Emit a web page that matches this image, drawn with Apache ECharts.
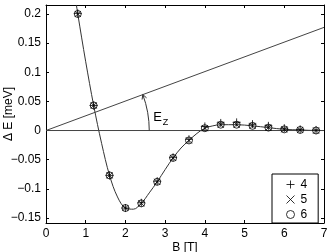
<!DOCTYPE html>
<html><head><meta charset="utf-8">
<script src="https://cdn.jsdelivr.net/npm/echarts@6/dist/echarts.min.js"></script>
<style>html,body{margin:0;padding:0;background:#fff}#c{width:332px;height:252px}</style>
</head><body><div id="c"></div>
<script>
// ---- data ----
const pointB   = [0.8, 1.2, 1.6, 2.0, 2.4, 2.8, 3.2, 3.6, 4.0, 4.4, 4.8, 5.2, 5.6, 6.0, 6.4, 6.8];
const series4  = [0.201, 0.043, -0.077, -0.133, -0.124, -0.087, -0.046, -0.015, 0.007, 0.013, 0.014, 0.011, 0.008, 0.004, 0.002, 0.001];
const series5  = [0.200, 0.043, -0.077, -0.133, -0.125, -0.088, -0.047, -0.017, 0.004, 0.010, 0.010, 0.008, 0.005, 0.002, 0.001, 0.000];
const series6  = [0.200, 0.043, -0.077, -0.133, -0.125, -0.088, -0.047, -0.017, 0.004, 0.010, 0.010, 0.008, 0.005, 0.002, 0.001, 0.000];
const fitB     = [0.765, 0.8, 1.0, 1.2, 1.4, 1.6, 1.8, 2.0, 2.2, 2.4, 2.6, 2.8, 3.0, 3.2, 3.4, 3.6, 3.8, 4.0, 4.2, 4.4, 4.8, 5.2, 5.6, 6.0, 6.4, 6.8, 7.0];
const fitE     = [0.2155, 0.200, 0.118, 0.043, -0.022, -0.077, -0.114, -0.133, -0.135, -0.125, -0.107, -0.088, -0.067, -0.047, -0.030, -0.017, -0.005, 0.004, 0.008, 0.010, 0.010, 0.008, 0.005, 0.002, 0.001, 0.000, 0.000];
const zeemanB  = [0, 7];
const zeemanE  = [0, 0.177];
const zeroB    = [0, 7];
const zeroE    = [0, 0];
const xTickValues = [0, 1, 2, 3, 4, 5, 6, 7];
const xTickLabels = ['0', '1', '2', '3', '4', '5', '6', '7'];
const yTickValues = [-0.15, -0.1, -0.05, 0, 0.05, 0.1, 0.15, 0.2];
const yTickLabels = ['\u22120.15', '\u22120.1', '\u22120.05', '0', '0.05', '0.1', '0.15', '0.2'];
const legendNames = ['4', '5', '6'];
const arcAtB = 2.6;

// ---- build ----
const FONT = "'Liberation Sans', Arial, sans-serif";
const pairs = (xs, ys) => xs.map((x, i) => [x, ys[i]]);
const lookup = (vals, labels) => v => { const i = vals.findIndex(t => Math.abs(t - v) < 1e-9); return i >= 0 ? labels[i] : ''; };

const XMIN = 0, XMAX = 7, YMIN = -0.1587, YMAX = 0.2154;
const plusPath = 'path://M5,0 L5,10 M0,5 L10,5';
const crossPath = 'path://M0,0 L10,10 M0,10 L10,0';

const baseX = {
  type: 'value', min: XMIN, max: XMAX, gridIndex: 0,
  axisLine: { show: true, onZero: false, lineStyle: { color: '#000', width: 1 } },
  axisTick: { show: true, inside: true, length: 3, customValues: xTickValues, lineStyle: { color: '#000' } },
  splitLine: { show: false }
};
const baseY = {
  type: 'value', min: YMIN, max: YMAX, gridIndex: 0,
  axisLine: { show: true, onZero: false, lineStyle: { color: '#000', width: 1 } },
  axisTick: { show: true, inside: true, length: 3, customValues: yTickValues, lineStyle: { color: '#000' } },
  splitLine: { show: false }
};

const option = {
  animation: false,
  backgroundColor: '#fff',
  textStyle: { fontFamily: FONT },
  grid: { left: 46, right: 8, top: 5, bottom: 29, containLabel: false, outerBoundsMode: 'none' },
  xAxis: [
    Object.assign({}, baseX, {
      position: 'bottom',
      name: 'B [T]', nameLocation: 'middle', nameGap: 19, nameMoveOverlap: false,
      nameTextStyle: { fontFamily: FONT, fontSize: 12, color: '#000' },
      axisLabel: { show: true, customValues: xTickValues, formatter: lookup(xTickValues, xTickLabels), margin: 5, fontFamily: FONT, fontSize: 12, color: '#000' }
    }),
    Object.assign({}, baseX, { position: 'top', axisLabel: { show: false } })
  ],
  yAxis: [
    Object.assign({}, baseY, {
      position: 'left',
      name: '\u0394 E [meV]', nameLocation: 'middle', nameGap: 31, nameRotate: 90, nameMoveOverlap: false,
      nameTextStyle: { fontFamily: FONT, fontSize: 12, color: '#000' },
      axisLabel: { show: true, customValues: yTickValues, formatter: lookup(yTickValues, yTickLabels), margin: 5, fontFamily: FONT, fontSize: 12, color: '#000' }
    }),
    Object.assign({}, baseY, { position: 'right', axisLabel: { show: false } })
  ],
  legend: {
    data: legendNames.map(n => ({ name: n })),
    orient: 'vertical', left: 272, top: 174,
    backgroundColor: '#fff', borderColor: '#000', borderWidth: 1,
    padding: [4, 11, 2, 12],
    itemWidth: 10, itemHeight: 8, itemGap: 2, itemTextGap: 11,
    itemStyle: { borderWidth: 1 },
    textStyle: { fontFamily: FONT, fontSize: 12, color: '#000', lineHeight: 12 },
    selectedMode: false
  },
  series: [
    { type: 'line', name: 'fit', data: pairs(fitB, fitE), smooth: 0.35, showSymbol: false, symbol: 'none',
      lineStyle: { color: '#333', width: 1 }, clip: true, z: 2 },
    { type: 'line', name: 'Ez', data: pairs(zeemanB, zeemanE), showSymbol: false, symbol: 'none',
      lineStyle: { color: '#444', width: 1 }, z: 2 },
    { type: 'line', name: 'zero', data: pairs(zeroB, zeroE), showSymbol: false, symbol: 'none',
      lineStyle: { color: '#444', width: 1 }, z: 2 },
    { type: 'custom', name: 'arc', data: [[0, 0]], z: 3, silent: true,
      renderItem: function (params, api) {
        const o = api.coord([0, 0]);
        const a = api.coord([arcAtB, 0]);
        const e = api.coord([zeemanB[1], zeemanE[1]]);
        const r = a[0] - o[0];
        const th = Math.atan2(o[1] - e[1], e[0] - o[0]);
        const tip = [o[0] + r * Math.cos(th), o[1] - r * Math.sin(th)];
        const bx = Math.sin(th), by = Math.cos(th), L = 5, ang = 0.5;
        const rot = (x, y, t) => [x * Math.cos(t) - y * Math.sin(t), x * Math.sin(t) + y * Math.cos(t)];
        const p1 = rot(bx, by, ang), p2 = rot(bx, by, -ang);
        return { type: 'group', children: [
          { type: 'arc', shape: { cx: o[0], cy: o[1], r: r, startAngle: -th, endAngle: 0, clockwise: true },
            style: { stroke: '#333', fill: null, lineWidth: 1 } },
          { type: 'polyline', shape: { points: [[tip[0] + p1[0] * L, tip[1] + p1[1] * L], tip, [tip[0] + p2[0] * L, tip[1] + p2[1] * L]] },
            style: { stroke: '#333', fill: null, lineWidth: 1 } },
          { type: 'text', x: a[0] + 4, y: o[1] - 20,
            style: { text: 'E', fontFamily: FONT, fontSize: 13, fill: '#000', verticalAlign: 'top' } },
          { type: 'text', x: a[0] + 13.5, y: o[1] - 13,
            style: { text: 'Z', fontFamily: FONT, fontSize: 9, fill: '#000', verticalAlign: 'top' } }
        ] };
      }
    },
    { type: 'scatter', name: legendNames[0], data: pairs(pointB, series4), symbol: plusPath, symbolSize: 8,
      itemStyle: { color: 'none', borderColor: '#000', borderWidth: 1 }, z: 5 },
    { type: 'scatter', name: legendNames[1], data: pairs(pointB, series5), symbol: crossPath, symbolSize: 6,
      itemStyle: { color: 'none', borderColor: '#000', borderWidth: 1 }, z: 5 },
    { type: 'scatter', name: legendNames[2], data: pairs(pointB, series6), symbol: 'circle', symbolSize: 7,
      itemStyle: { color: 'none', borderColor: '#000', borderWidth: 1 }, z: 5 }
  ]
};
const chart = echarts.init(document.getElementById('c'), null, { renderer: 'canvas' });
chart.setOption(option);
</script></body></html>
